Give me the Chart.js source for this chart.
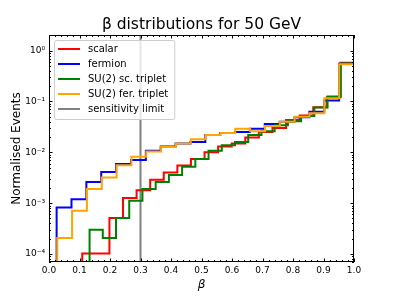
<!DOCTYPE html>
<html>
<head>
<meta charset="utf-8">
<script src="https://cdn.jsdelivr.net/npm/chart.js@4.4.0/dist/chart.umd.min.js"></script>
<style>
  html, body { margin: 0; padding: 0; background: #fff; }
</style>
</head>
<body>
<canvas id="betaChart" width="394" height="296"></canvas>
<script>
// each histogram has 20 equal bins from its own lowest beta up to 1.0
const binStart = [0.109, 0.025, 0.133, 0.027];
const seriesLabels = ['scalar', 'fermion', 'SU(2) sc. triplet', 'SU(2) fer. triplet'];

const scalar = [1.03e-4, 1.03e-4, 5.1e-4, 1.26e-3, 1.8e-3, 2.9e-3, 4.0e-3, 5.5e-3, 7.4e-3, 1.0e-2,
  1.3e-2, 1.5e-2, 1.95e-2, 2.5e-2, 3.0e-2, 4.3e-2, 5.3e-2, 7.7e-2, 0.121, 0.58];
const fermion = [8.2e-4, 1.2e-3, 2.6e-3, 4.1e-3, 5.9e-3, 7.1e-3, 1.07e-2, 1.3e-2, 1.5e-2, 1.6e-2,
  2.2e-2, 2.4e-2, 2.5e-2, 2.9e-2, 3.6e-2, 4.0e-2, 4.9e-2, 6.3e-2, 0.104, 0.55];
const scTriplet = [3.0e-4, 2.06e-4, 5.1e-4, 1.12e-3, 1.9e-3, 2.6e-3, 3.6e-3, 5.2e-3, 7.4e-3, 1.08e-2,
  1.38e-2, 1.6e-2, 2.2e-2, 2.6e-2, 3.4e-2, 4.1e-2, 5.2e-2, 7.6e-2, 0.125, 0.56];
const ferTriplet = [2.06e-4, 7.1e-4, 1.9e-3, 3.2e-3, 5.6e-3, 8.2e-3, 1.04e-2, 1.28e-2, 1.5e-2, 1.8e-2,
  2.2e-2, 2.4e-2, 2.9e-2, 2.6e-2, 3.3e-2, 4.0e-2, 5.0e-2, 5.9e-2, 0.116, 0.54];

const sensitivityLimit = 0.3;
const xTicks = [0, 0.1, 0.2, 0.3, 0.4, 0.5, 0.6, 0.7, 0.8, 0.9, 1.0];
const yTicks = [1e-4, 1e-3, 1e-2, 1e-1, 1];

const colors = ['#ff0000', '#0000ff', '#008000', '#ffa500'];
const FLOOR = 1e-7; // below the axis, like the zero of a step histogram

Chart.defaults.font.family = "'DejaVu Sans', sans-serif";
Chart.defaults.color = '#000';

// outline of a step histogram, as points for a stepped line
function stepPoints(lo, vals) {
  const w = (1 - lo) / vals.length;
  const pts = [{ x: lo, y: FLOOR }];
  vals.forEach((v, i) => pts.push({ x: lo + i * w, y: v }));
  pts.push({ x: 1, y: vals[vals.length - 1] });
  pts.push({ x: 1, y: FLOOR });
  return pts;
}

const sup = { '-': '⁻', '0': '⁰', '1': '¹', '2': '²', '3': '³', '4': '⁴', '5': '⁵' };
const yTickLabel = v => '10' + String(Math.round(Math.log10(v))).split('').map(c => sup[c]).join('');

const histos = [scalar, fermion, scTriplet, ferTriplet].map((vals, i) => ({
  label: seriesLabels[i],
  data: stepPoints(binStart[i], vals),
  borderColor: colors[i],
  borderWidth: 2,
  stepped: 'before',
  pointRadius: 0,
  fill: false,
  order: 4 - i
}));

const datasets = histos.concat([{
  label: 'sensitivity limit',
  data: [{ x: sensitivityLimit, y: FLOOR }, { x: sensitivityLimit, y: 100 }],
  borderColor: '#808080',
  borderWidth: 2,
  pointRadius: 0,
  order: 10
}]);

// inward ticks on all four sides, the frame, and a legend inside the axes
const mplFrame = {
  id: 'mplFrame',
  afterDatasetsDraw(chart) {
    const { ctx, chartArea: ca, scales: { x, y } } = chart;
    ctx.save();
    ctx.strokeStyle = '#000';
    ctx.lineWidth = 1;
    const tick = (px, len, horiz) => {
      ctx.beginPath();
      const p = Math.round(px) + 0.5;
      if (horiz) {
        ctx.moveTo(p, ca.bottom); ctx.lineTo(p, ca.bottom - len);
        ctx.moveTo(p, ca.top); ctx.lineTo(p, ca.top + len);
      } else {
        ctx.moveTo(ca.left, p); ctx.lineTo(ca.left + len, p);
        ctx.moveTo(ca.right, p); ctx.lineTo(ca.right - len, p);
      }
      ctx.stroke();
    };
    for (let i = 0; i <= 50; i++) {
      tick(x.getPixelForValue(i / 50), i % 5 === 0 ? 3.5 : 2, true);
    }
    for (let e = -5; e <= 0; e++) {
      for (let k = 1; k <= 9; k++) {
        const v = k * Math.pow(10, e);
        if (v < y.min || v > y.max) continue;
        tick(y.getPixelForValue(v), k === 1 ? 3.5 : 2, false);
      }
    }
    ctx.strokeRect(Math.round(ca.left) + 0.5, Math.round(ca.top) + 0.5,
      Math.round(ca.right - ca.left) - 1, Math.round(ca.bottom - ca.top) - 1);

    // legend
    const fs = 10;
    ctx.font = fs + "px 'DejaVu Sans'";
    const items = chart.data.datasets;
    const textW = Math.max(...items.map(d => ctx.measureText(d.label).width));
    const lx = ca.left + 5, ly = ca.top + 5;
    const rowH = 15;
    const w = 4 + 23 + 8 + textW + 5;
    const h = items.length * rowH + 4;
    ctx.beginPath();
    ctx.roundRect(lx + 0.5, ly + 0.5, w, h, 2);
    ctx.fillStyle = 'rgba(255,255,255,0.8)';
    ctx.fill();
    ctx.strokeStyle = '#cccccc';
    ctx.stroke();
    items.forEach((d, i) => {
      const cy = ly + 9 + i * rowH;
      ctx.beginPath();
      ctx.strokeStyle = d.borderColor;
      ctx.lineWidth = 2;
      ctx.moveTo(lx + 4, cy); ctx.lineTo(lx + 26, cy);
      ctx.stroke();
      ctx.fillStyle = '#000';
      ctx.textBaseline = 'middle';
      ctx.fillText(d.label, lx + 34, cy + 0.5);
    });
    ctx.restore();
  }
};

new Chart(document.getElementById('betaChart').getContext('2d'), {
  type: 'line',
  data: { datasets },
  options: {
    responsive: false,
    animation: false,
    layout: { padding: { left: 0, right: 40, top: 0, bottom: 0 } },
    plugins: {
      legend: { display: false },
      tooltip: { enabled: false },
      title: {
        display: true,
        fullSize: false,
        text: 'β distributions for 50 GeV',
        font: { size: 15.5, weight: 'normal', lineHeight: 1.2 },
        color: '#000',
        padding: { top: 16, bottom: 0.4 }
      }
    },
    scales: {
      x: {
        type: 'linear',
        min: 0, max: 1,
        grid: { display: false, drawTicks: false },
        border: { display: false },
        afterBuildTicks: s => { s.ticks = xTicks.map(v => ({ value: v })); },
        afterFit: s => { s.height = 34; },
        ticks: { callback: v => v.toFixed(1), font: { size: 9 }, padding: 3, maxRotation: 0, autoSkip: false },
        title: { display: true, text: 'β', font: { size: 12, style: 'italic' }, padding: { top: 0, bottom: 4 } }
      },
      y: {
        type: 'logarithmic',
        min: 6.97e-5, max: 2.03,
        grid: { display: false, drawTicks: false },
        border: { display: false },
        afterBuildTicks: s => { s.ticks = yTicks.map(v => ({ value: v })); },
        afterFit: s => { s.width = 49; },
        ticks: { callback: v => yTickLabel(v), font: { size: 9 }, padding: 4, autoSkip: false },
        title: { display: true, text: 'Normalised Events', font: { size: 12 }, padding: { top: 10, bottom: 0 } }
      }
    }
  },
  plugins: [mplFrame]
});
</script>
</body>
</html>
